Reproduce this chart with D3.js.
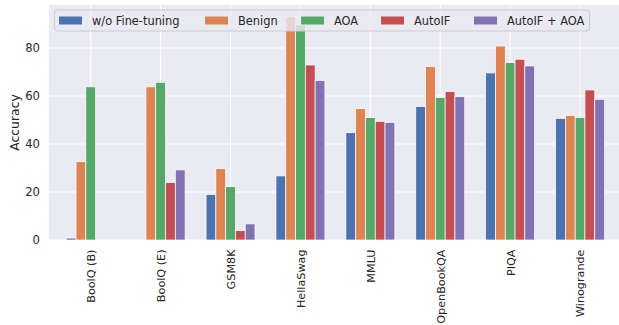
<!DOCTYPE html>
<html>
<head>
<meta charset="utf-8">
<script src="https://cdn.jsdelivr.net/npm/d3@7"></script>
<style>
  html, body { margin: 0; padding: 0; background: #fff; }
  svg { display: block; font-family: "DejaVu Sans", sans-serif; }
</style>
</head>
<body>
<svg id="chart" width="619" height="325"></svg>
<script>
// Benchmarks on the x axis
const categories = ["BoolQ (B)", "BoolQ (E)", "GSM8K", "HellaSwag", "MMLU", "OpenBookQA", "PIQA", "Winogrande"];

// Accuracy per model variant, one value per benchmark
const seriesNames = ["w/o Fine-tuning", "Benign", "AOA", "AutoIF", "AutoIF + AOA"];
const woFineTuning = [0.8, 0, 18.9, 26.7, 44.7, 55.6, 69.6, 50.6];
const benign       = [32.6, 63.8, 29.7, 93.0, 54.7, 72.2, 80.8, 51.8];
const aoa          = [63.8, 65.7, 22.2, 89.6, 51.0, 59.4, 73.9, 51.0];
const autoIF       = [0, 23.9, 3.9, 72.9, 49.4, 61.8, 75.3, 62.5];
const autoIFAoa    = [0, 29.2, 6.7, 66.4, 49.0, 59.7, 72.5, 58.6];
const seriesValues = [woFineTuning, benign, aoa, autoIF, autoIFAoa];

const yTicks = [0, 20, 40, 60, 80];
const colors = ["#4C72B0", "#DD8452", "#55A868", "#C44E52", "#8172B3"];

const svg = d3.select("#chart");
const plot = { left: 49, right: 622, top: 5, bottom: 240 };

const x = d3.scaleLinear().domain([-0.597, 7.6]).range([plot.left, plot.right]);
const y = d3.scaleLinear().domain([0, 97.9]).range([plot.bottom, plot.top]);
const barW = 0.14; // width of one bar in category units

// Axes background
svg.append("rect")
  .attr("x", plot.left).attr("y", plot.top)
  .attr("width", plot.right - plot.left).attr("height", plot.bottom - plot.top)
  .attr("fill", "#EAEAF2");

// Grid lines
const grid = svg.append("g");
grid.selectAll("line.h").data(yTicks).join("line")
  .attr("x1", plot.left).attr("x2", plot.right)
  .attr("y1", d => y(d)).attr("y2", d => y(d))
  .attr("stroke", "#fff").attr("stroke-width", 1.1);
grid.selectAll("line.v").data(categories).join("line")
  .attr("x1", (d, i) => x(i)).attr("x2", (d, i) => x(i))
  .attr("y1", plot.top).attr("y2", plot.bottom)
  .attr("stroke", "#fff").attr("stroke-width", 1.1);

// Bars
const bars = [];
seriesValues.forEach((vals, s) => {
  vals.forEach((v, i) => {
    if (v > 0) bars.push({ s, i, v });
  });
});
svg.append("g").selectAll("rect").data(bars).join("rect")
  .attr("x", d => x(d.i + (d.s - 2.5) * barW))
  .attr("width", d => x(barW) - x(0))
  .attr("y", d => y(d.v))
  .attr("height", d => y(0) - y(d.v))
  .attr("fill", d => colors[d.s])
  .attr("stroke", "#fff").attr("stroke-width", 0.7);

// Y axis
const yAxis = d3.axisLeft(y).tickValues(yTicks).tickSize(0).tickPadding(9);
const gy = svg.append("g").attr("transform", `translate(${plot.left},0)`).call(yAxis);
gy.select(".domain").remove();
gy.selectAll("text").attr("font-size", 11.6).attr("fill", "#262626")
  .attr("font-family", "DejaVu Sans, sans-serif");

// X axis with rotated labels
const xAxis = d3.axisBottom(x).tickValues(d3.range(categories.length))
  .tickFormat(i => categories[i]).tickSize(0);
const gx = svg.append("g").attr("transform", `translate(0,${plot.bottom})`).call(xAxis);
gx.select(".domain").remove();
gx.selectAll("text")
  .attr("font-size", 11.2).attr("fill", "#262626")
  .attr("font-family", "DejaVu Sans, sans-serif")
  .attr("transform", "rotate(-90)")
  .attr("text-anchor", "end")
  .attr("x", -9.5).attr("y", 0).attr("dy", "0.35em");

// Y axis title
svg.append("text")
  .attr("transform", `translate(19,${(plot.top + plot.bottom) / 2}) rotate(-90)`)
  .attr("text-anchor", "middle")
  .attr("font-size", 12.4).attr("fill", "#262626")
  .text("Accuracy");

// Legend
const lg = svg.append("g");
lg.append("rect")
  .attr("x", 54.5).attr("y", 10).attr("width", 535).attr("height", 21)
  .attr("rx", 3).attr("ry", 3)
  .attr("fill", "#EAEAF2").attr("fill-opacity", 0.8)
  .attr("stroke", "#CCCCCC").attr("stroke-width", 1);
const handleX = [59, 205, 301, 381, 474];
const items = lg.selectAll("g.item").data(seriesNames).join("g")
  .attr("transform", (d, i) => `translate(${handleX[i]},20.5)`);
items.append("rect")
  .attr("x", 0).attr("y", -4).attr("width", 23).attr("height", 8)
  .attr("fill", (d, i) => colors[i]);
items.append("text")
  .attr("x", 33).attr("y", 0).attr("dy", "0.35em")
  .attr("font-size", 11.4).attr("fill", "#262626")
  .text(d => d);
</script>
</body>
</html>
